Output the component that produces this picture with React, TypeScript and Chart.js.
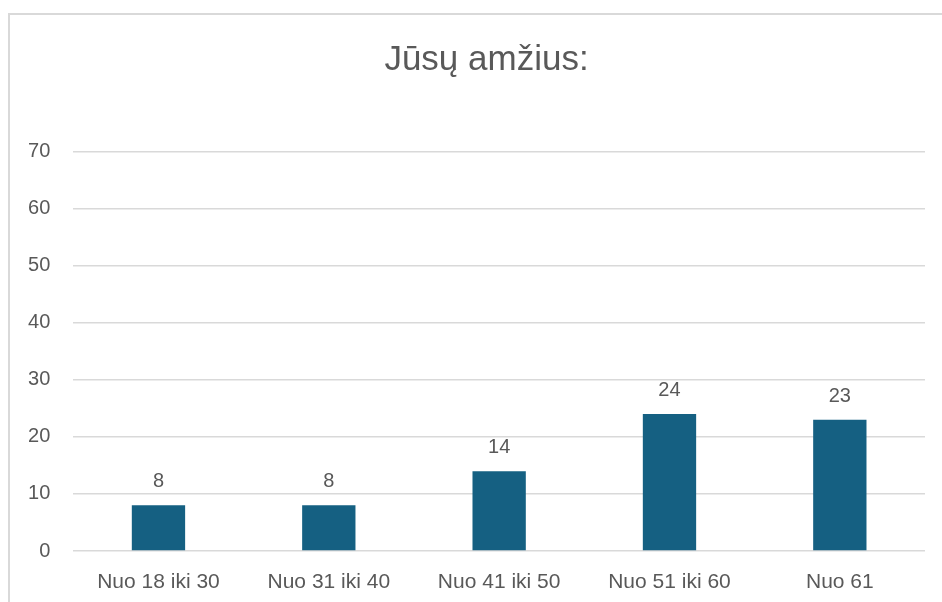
import React, { useEffect, useRef } from "react";
import { Chart, registerables } from "chart.js";

Chart.register(...registerables);

const title = "Jūsų amžius:";
const categories = ["Nuo 18 iki 30", "Nuo 31 iki 40", "Nuo 41 iki 50", "Nuo 51 iki 60", "Nuo 61"];
const values = [8, 8, 14, 24, 23];
const yMin = 0;
const yMax = 70;
const yStep = 10;

const FONT = "'Liberation Sans', Arial, sans-serif";
const TEXT = "#595959";
const BAR = "#156082";
const GRID = "#D9D9D9";

const dataLabels = {
  id: "dataLabels",
  afterDatasetsDraw(chart: any) {
    const ctx = chart.ctx;
    const meta = chart.getDatasetMeta(0);
    ctx.save();
    ctx.fillStyle = TEXT;
    ctx.font = `20px ${FONT}`;
    ctx.textAlign = "center";
    ctx.textBaseline = "alphabetic";
    meta.data.forEach((el: any, i: number) => {
      ctx.fillText(String(values[i]), el.x, el.y - 18);
    });
    ctx.restore();
  },
};

export default function App() {
  const ref = useRef<HTMLCanvasElement | null>(null);
  useEffect(() => {
    if (!ref.current) return;
    const chart = new Chart(ref.current, {
      type: "bar",
      data: {
        labels: categories,
        datasets: [
          {
            data: values,
            backgroundColor: BAR,
            borderWidth: 0,
            categoryPercentage: 1,
            barPercentage: 0.313,
            yAxisID: "y",
          },
        ],
      },
      options: {
        animation: false,
        responsive: false,
        maintainAspectRatio: false,
        layout: { padding: { top: 10, left: 0, right: 0, bottom: 0 } },
        plugins: {
          legend: { display: false },
          tooltip: { enabled: false },
          title: {
            display: true,
            text: title,
            color: TEXT,
            font: { family: FONT, size: 35, weight: "normal" as any, lineHeight: 1.2 },
            padding: { top: 14, bottom: 70.7 },
          },
        },
        scales: {
          x: {
            grid: { display: false, drawTicks: false },
            border: { display: false },
            ticks: { color: TEXT, font: { family: FONT, size: 21 }, padding: 19, maxRotation: 0 },
            afterFit(scale: any) {
              scale.height = 64;
            },
          },
          y: {
            min: yMin,
            max: yMax,
            grid: { color: GRID, lineWidth: 1.5, drawTicks: false },
            border: { display: false },
            ticks: { stepSize: yStep, color: TEXT, font: { family: FONT, size: 20 }, padding: 23 },
            afterFit(scale: any) {
              scale.width = 63.3;
            },
          },
          yRightSpace: {
            type: "linear",
            position: "right",
            min: yMin,
            max: yMax,
            grid: { display: false, drawTicks: false },
            border: { display: false },
            ticks: { display: false },
            afterFit(scale: any) {
              scale.width = 38;
            },
          },
        },
      },
      plugins: [dataLabels],
    });
    return () => chart.destroy();
  }, []);

  return (
    <div style={{ position: "fixed", left: 0, top: 0, width: 942, height: 602, overflow: "hidden", background: "#fff" }}>
      <div
        style={{
          position: "absolute",
          left: 8,
          top: 13,
          width: 953,
          height: 600,
          border: "2px solid #D9D9D9",
          background: "#fff",
        }}
      >
        <canvas ref={ref} width={953} height={600} style={{ display: "block", width: 953, height: 600 }} />
      </div>
    </div>
  );
}
